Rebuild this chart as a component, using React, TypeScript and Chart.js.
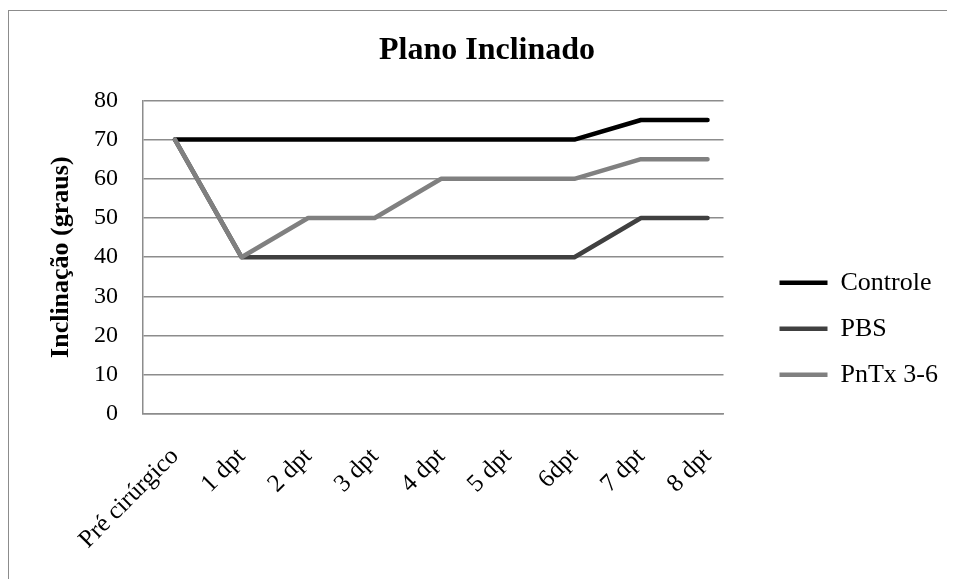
import React, { useEffect, useRef } from "react";
import { Chart, registerables } from "chart.js";

Chart.register(...registerables);

const categories = ["Pré cirúrgico", "1 dpt", "2 dpt", "3 dpt", "4 dpt", "5 dpt", "6dpt", "7 dpt", "8 dpt"];
const controle = [70, 70, 70, 70, 70, 70, 70, 75, 75];
const pbs = [70, 40, 40, 40, 40, 40, 40, 50, 50];
const pntx = [70, 40, 50, 50, 60, 60, 60, 65, 65];
const seriesNames = ["Controle", "PBS", "PnTx 3-6"];
const seriesColors = ["#000000", "#404040", "#808080"];
const chartTitle = "Plano Inclinado";
const yTitle = "Inclinação (graus)";

const FONT = "'Liberation Serif', 'Times New Roman', serif";

export default function App() {
  const ref = useRef<HTMLCanvasElement | null>(null);
  useEffect(() => {
    const values = [controle, pbs, pntx];
    const chart = new Chart(ref.current!, {
      type: "line",
      data: {
        datasets: values.map((v, i) => ({
          label: seriesNames[i],
          data: v.map((y, k) => ({ x: k, y })),
          borderColor: seriesColors[i],
          backgroundColor: seriesColors[i],
          borderWidth: 4.5,
          borderCapStyle: "round" as const,
          borderJoinStyle: "round" as const,
          pointRadius: 0,
          tension: 0,
          order: 3 - i,
          yAxisID: "y",
        })),
      },
      options: {
        responsive: false,
        animation: false,
        devicePixelRatio: 1,
        layout: { padding: { left: 18, right: 7, top: 0, bottom: 0 } },
        plugins: {
          tooltip: { enabled: false },
          title: {
            display: true,
            text: chartTitle,
            color: "#000",
            font: { family: FONT, size: 32, weight: "bold" },
            padding: { top: 24, bottom: 30 },
          },
          legend: {
            position: "right",
            align: "center",
            maxWidth: 260,
            title: { display: true, text: " ", padding: { top: 28, bottom: 28 }, font: { size: 12 } },
            labels: {
              usePointStyle: true,
              pointStyle: "line",
              pointStyleWidth: 48,
              boxHeight: 26,
              padding: 20,
              color: "#000",
              font: { family: FONT, size: 26 },
              sort: (a: any, b: any) => a.datasetIndex - b.datasetIndex,
            },
          },
        },
        scales: {
          x: {
            type: "linear",
            min: -0.48,
            max: 8.24,
            grid: { display: false, drawTicks: false },
            border: { display: true, color: "#8c8c8c", width: 1.5 },
            afterBuildTicks: (s: any) => {
              s.ticks = categories.map((_, i) => ({ value: i }));
            },
            ticks: {
              color: "#000",
              font: { family: FONT, size: 25 },
              maxRotation: 45,
              minRotation: 45,
              padding: 28,
              autoSkip: false,
              callback: (v: any) => categories[Math.round(Number(v))],
            },
            afterFit: (s: any) => {
              s.height = 165;
            },
          },
          y: {
            min: 0,
            max: 80,
            grid: { color: "#8c8c8c", lineWidth: 1.5, drawTicks: false },
            border: { display: true, color: "#8c8c8c", width: 1.5 },
            ticks: {
              stepSize: 10,
              color: "#000",
              font: { family: FONT, size: 24 },
              padding: 25,
            },
            title: {
              display: true,
              text: yTitle,
              color: "#000",
              font: { family: FONT, size: 26, weight: "bold" },
              padding: { top: 20, bottom: 0 },
            },
            afterFit: (s: any) => {
              s.width = 117;
            },
          },
          y2: {
            position: "right",
            display: true,
            grid: { display: false, drawTicks: false },
            border: { display: false },
            ticks: { display: false },
            afterFit: (s: any) => {
              s.width = 36;
            },
          },
        },
      },
    });
    return () => chart.destroy();
  }, []);

  return (
    <div style={{ position: "relative", width: 947, height: 571, overflow: "hidden" }}>
      <div
        style={{
          position: "absolute",
          left: 0,
          top: 2,
          width: 1200,
          height: 1200,
          borderLeft: "1.5px solid #8c8c8c",
          borderTop: "1.5px solid #8c8c8c",
        }}
      />
      <canvas ref={ref} width={947} height={571} style={{ position: "absolute", left: 0, top: 0 }} />
    </div>
  );
}
